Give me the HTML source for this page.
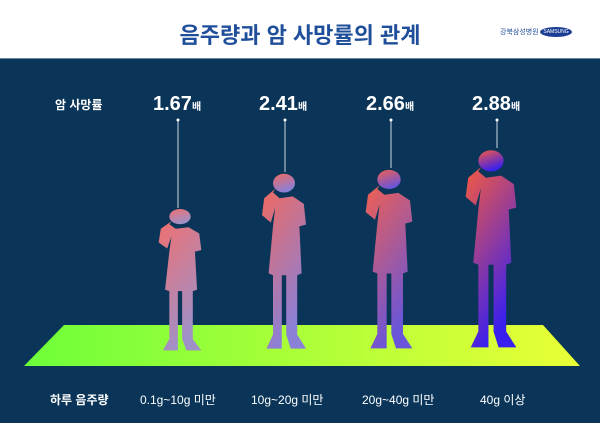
<!DOCTYPE html>
<html><head><meta charset="utf-8"><style>
body{margin:0;width:600px;height:422px;overflow:hidden;background:#fff;font-family:"Liberation Sans","Noto Sans CJK KR",sans-serif}
#w{position:relative;width:600px;height:422px}
.t{position:absolute;color:#fff;white-space:nowrap}
</style></head><body><div id="w">
<div class="t" style="left:0;top:18px;width:600px;text-align:center;color:#1f4e9a;font-size:22px;font-weight:bold">음주량과 암 사망률의 관계</div>
<div class="t" style="left:500px;top:27px;color:#1f4e9a;font-size:7px">강북삼성병원</div>
<div style="position:absolute;left:540px;top:27px;width:32px;height:10px;border-radius:50%;background:#1c3f94;color:#fff;font-size:5px;text-align:center;line-height:10px">SAMSUNG</div>
<div style="position:absolute;left:0;top:58px;width:600px;height:364px;background:#0a3558;border-top:1px solid #6b8aa5"></div>
<svg style="position:absolute;left:0;top:0" width="600" height="422">
<defs>
<linearGradient id="fl" x1="0" x2="1"><stop offset="0" stop-color="#6dff3a"/><stop offset="1" stop-color="#eaff36"/></linearGradient>
<linearGradient id="p1" x1="0" y1="0" x2="0.4" y2="1"><stop offset="0" stop-color="#f07070"/><stop offset="1" stop-color="#a090c8"/></linearGradient>
<linearGradient id="p2" x1="0" y1="0" x2="0.4" y2="1"><stop offset="0" stop-color="#f06a60"/><stop offset="1" stop-color="#8a80d8"/></linearGradient>
<linearGradient id="p3" x1="0" y1="0" x2="0.4" y2="1"><stop offset="0" stop-color="#f06050"/><stop offset="1" stop-color="#6a55d8"/></linearGradient>
<linearGradient id="p4" x1="0" y1="0" x2="0.4" y2="1"><stop offset="0" stop-color="#f55a40"/><stop offset="1" stop-color="#3a20ee"/></linearGradient>
<symbol id="man" viewBox="0 0 60 200" preserveAspectRatio="none">
<circle cx="30" cy="14" r="10"/>
<path d="M22 20 L12 30 L10 48 L18 56 L22 40 L20 60 L16 110 L20 112 L20 175 L14 190 L28 190 L28 112 L32 112 L32 175 L36 190 L50 190 L42 175 L42 112 L46 110 L44 60 L50 58 L48 36 L38 28 L26 30 L20 24 Z"/>
</symbol>
</defs>
<polygon points="64,325 543,325 580,366 24,366" fill="url(#fl)"/>
<g stroke="#cfd8e0" stroke-width="1"><line x1="178" y1="120" x2="178" y2="208"/><line x1="285" y1="120" x2="285" y2="172"/><line x1="391" y1="120" x2="391" y2="168"/><line x1="497" y1="120" x2="497" y2="148"/></g>
<g fill="#fff"><circle cx="178" cy="120" r="1.5"/><circle cx="285" cy="120" r="1.5"/><circle cx="391" cy="120" r="1.5"/><circle cx="497" cy="120" r="1.5"/></g>
<use href="#man" x="148" y="206" width="64" height="152" fill="url(#p1)"/>
<use href="#man" x="251" y="170" width="66" height="188" fill="url(#p2)"/>
<use href="#man" x="354" y="166" width="70" height="192" fill="url(#p3)"/>
<use href="#man" x="453" y="146" width="76" height="212" fill="url(#p4)"/>
</svg>
<div class="t" style="left:55px;top:96px;font-size:12px;font-weight:bold">암 사망률</div>
<div class="t" style="left:153px;top:93px;font-size:20px;font-weight:bold">1.67<span style="font-size:10px">배</span></div>
<div class="t" style="left:259px;top:93px;font-size:20px;font-weight:bold">2.41<span style="font-size:10px">배</span></div>
<div class="t" style="left:366px;top:93px;font-size:20px;font-weight:bold">2.66<span style="font-size:10px">배</span></div>
<div class="t" style="left:472px;top:93px;font-size:20px;font-weight:bold">2.88<span style="font-size:10px">배</span></div>
<div class="t" style="left:50px;top:391px;font-size:12px;font-weight:bold">하루 음주량</div>
<div class="t" style="left:140px;top:391px;font-size:12px">0.1g~10g 미만</div>
<div class="t" style="left:251px;top:391px;font-size:12px">10g~20g 미만</div>
<div class="t" style="left:362px;top:391px;font-size:12px">20g~40g 미만</div>
<div class="t" style="left:480px;top:391px;font-size:12px">40g 이상</div>
</div></body></html>
